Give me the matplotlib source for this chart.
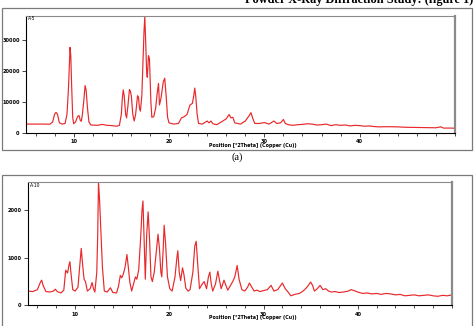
import matplotlib
matplotlib.use("Agg")
import matplotlib.pyplot as plt
from matplotlib.patches import Rectangle
from matplotlib.ticker import MultipleLocator

# ---------------- data ----------------
a_theta = [5.0, 6.0, 7.0, 7.5, 7.8, 8.0, 8.15, 8.3, 8.5, 8.8,
           9.1, 9.3, 9.45, 9.55, 9.62, 9.7, 9.78, 9.9, 10.0, 10.2,
           10.4, 10.55, 10.7, 10.8, 10.9, 11.05, 11.2, 11.3, 11.45, 11.6,
           11.8, 12.5, 13.0, 13.5, 14.0, 14.5, 14.8, 15.0, 15.1, 15.2,
           15.3, 15.45, 15.55, 15.7, 15.85, 15.95, 16.05, 16.2, 16.35, 16.5,
           16.7, 16.8, 16.9, 17.0, 17.15, 17.28, 17.38, 17.46, 17.55, 17.65,
           17.72, 17.85, 17.95, 18.1, 18.2, 18.4, 18.6, 18.75, 18.9, 19.0,
           19.15, 19.4, 19.55, 19.7, 19.85, 20.0, 20.5, 21.0, 21.3, 21.6,
           21.9, 22.2, 22.45, 22.6, 22.7, 22.8, 22.95, 23.1, 23.5, 24.0,
           24.2, 24.4, 24.6, 25.0, 25.5, 26.0, 26.3, 26.5, 26.7, 26.9,
           27.5, 28.0, 28.4, 28.6, 28.8, 29.0, 29.5, 30.0, 30.5, 31.0,
           31.3, 31.7, 32.0, 32.2, 32.5, 33.0, 33.5, 34.0, 34.5, 35.0,
           35.5, 36.0, 36.5, 37.0, 37.5, 38.0, 38.5, 39.0, 39.5, 40.0,
           40.5, 41.0, 41.5, 42.0, 43.0, 44.0, 44.5, 45.0, 46.0, 47.0,
           48.0, 48.5, 48.8, 49.5, 50.0]
a_counts = [2800, 2800, 2800, 2750, 3500, 6000, 6600, 6000, 3200, 2800,
            3000, 6000, 14000, 22000, 27700, 25000, 16000, 5000, 2900, 3500,
            5200, 5600, 4000, 3700, 5500, 10000, 15300, 14000, 8000, 3500,
            2500, 2400, 2700, 2400, 2300, 2100, 2400, 6000, 11000, 13900,
            12000, 6000, 4800, 9000, 14000, 13500, 12000, 6000, 3800, 6000,
            12000, 11500, 8000, 7000, 12000, 24000, 33000, 37700, 30000, 20000,
            18000, 25000, 24000, 10000, 5000, 5200, 8000, 12500, 16000, 9000,
            11000, 16500, 17700, 12000, 5000, 3200, 2800, 3000, 4800, 5200,
            6000, 9000, 9500, 12000, 14500, 12000, 6000, 3000, 2800, 3800,
            3200, 3800, 2900, 2600, 3500, 4500, 5900, 4800, 5000, 3200,
            2800, 3800, 5500, 6500, 4500, 3000, 3000, 3300, 2800, 3800,
            3000, 3200, 4300, 3000, 2600, 2400, 2600, 2700, 2900, 2800,
            2500, 2600, 2800, 2300, 2600, 2400, 2500, 2200, 2400, 2300,
            2100, 2200, 2000, 1900, 1950, 1900, 1800, 1750, 1700, 1650,
            1600, 1900, 1500, 1500, 1450]

b_theta = [5.0, 5.5, 6.0, 6.3, 6.45, 6.6, 6.9, 7.3, 7.7, 7.9,
           8.1, 8.5, 8.8, 9.0, 9.2, 9.35, 9.45, 9.55, 9.75, 10.0,
           10.3, 10.5, 10.65, 10.8, 10.95, 11.1, 11.3, 11.6, 11.8, 11.95,
           12.1, 12.3, 12.4, 12.48, 12.6, 12.75, 12.9, 13.1, 13.4, 13.75,
           14.0, 14.4, 14.6, 14.8, 14.95, 15.1, 15.3, 15.5, 15.65, 15.8,
           16.0, 16.2, 16.4, 16.55, 16.75, 16.95, 17.1, 17.2, 17.35, 17.45,
           17.6, 17.75, 17.9, 18.05, 18.2, 18.4, 18.6, 18.8, 18.95, 19.1,
           19.2, 19.35, 19.45, 19.6, 19.8, 20.05, 20.3, 20.6, 20.8, 20.9,
           21.05, 21.2, 21.4, 21.55, 21.75, 22.0, 22.2, 22.5, 22.7, 22.85,
           23.0, 23.2, 23.5, 23.7, 23.95, 24.15, 24.3, 24.45, 24.6, 24.9,
           25.15, 25.35, 25.5, 25.8, 26.0, 26.2, 26.5, 26.75, 26.95, 27.2,
           27.4, 27.7, 28.0, 28.3, 28.5, 28.7, 29.0, 29.3, 29.6, 30.0,
           30.4, 30.8, 31.1, 31.5, 32.0, 32.3, 32.6, 32.9, 33.3, 33.8,
           34.2, 34.6, 35.0, 35.2, 35.4, 35.7, 36.0, 36.3, 36.6, 36.9,
           37.2, 37.6, 38.0, 38.5, 39.0, 39.3, 39.6, 40.0, 40.5, 41.0,
           41.5, 42.0, 42.5, 43.0, 43.5, 44.0, 44.5, 45.0, 45.5, 46.0,
           46.5, 47.0, 47.5, 48.0, 48.5, 49.0, 49.5, 50.0]
b_counts = [300, 290, 330, 480, 530, 420, 290, 280, 300, 340,
            290, 260, 320, 740, 680, 850, 920, 700, 330, 300,
            380, 850, 1200, 850, 550, 500, 300, 350, 480, 350,
            280, 700, 1500, 2600, 2200, 1500, 800, 300, 280, 370,
            270, 260, 400, 630, 580, 650, 800, 1070, 800, 500,
            300, 450, 600, 550, 750, 1400, 2000, 2200, 1200, 550,
            1500, 1970, 1400, 600, 500, 700, 1100, 1500, 1200, 700,
            600, 1200, 1690, 1300, 600, 350, 300, 600, 1000, 1150,
            700, 520, 790, 650, 360, 300, 330, 700, 1250, 1350,
            900, 350, 450, 500, 350, 600, 700, 450, 300, 450,
            720, 500, 350, 530, 420, 320, 420, 510, 600, 840,
            550, 330, 300, 380, 470, 400, 300, 320, 290, 310,
            330, 420, 300, 330, 470, 350, 280, 200, 230, 250,
            300, 380, 490, 420, 300, 350, 420, 330, 350, 300,
            280, 290, 270, 280, 300, 330, 310, 280, 250, 260,
            240, 250, 230, 250, 240, 220, 230, 200, 210, 220,
            200, 210, 220, 200, 190, 210, 200, 220]

a_yticks = [0, 10000, 20000, 30000]
b_yticks = [0, 1000, 2000]
x_major = [10, 20, 30, 40]
a_corner = "A-5"
b_corner = "A-10"
x_label = "Position [°2Theta] (Copper (Cu))"
header = "Powder X-Ray Diffraction Study: (figure 1)"
caption_a = "(a)"

# ---------------- figure ----------------
W, H = 476, 326
fig = plt.figure(figsize=(W / 100, H / 100), dpi=100)
fig.patch.set_facecolor("white")


def fx(px):
    return px / W


def fy(py):
    return 1 - py / H


# outer frames
fig.patches.append(Rectangle((fx(2), fy(150)), fx(470), (150 - 8) / H, transform=fig.transFigure,
                             fill=False, edgecolor="#7a7a7a", linewidth=0.9))
fig.patches.append(Rectangle((fx(2), fy(328)), fx(470), (328 - 175) / H, transform=fig.transFigure,
                             fill=False, edgecolor="#7a7a7a", linewidth=0.9))

# header text (cut off at the top edge, as in the source page)
fig.text(fx(473), fy(3.5), header, ha="right", va="baseline", fontsize=8.8, fontweight="bold",
         family="Liberation Serif")


def make_panel(rect, theta, counts, ymax, yticks, corner, xlabel_y):
    ax = fig.add_axes(rect)
    ax.plot(theta, counts, color="#e8282a", linewidth=0.85)
    ax.set_xlim(5, 50)
    ax.set_ylim(0, ymax)
    ax.set_xticks(x_major)
    ax.xaxis.set_minor_locator(MultipleLocator(2))
    ax.set_yticks(yticks)
    ax.tick_params(axis="both", which="major", labelsize=3.6, length=3, width=0.5, pad=1.5)
    ax.tick_params(axis="x", which="minor", length=2, width=0.5)
    for s in ("left", "bottom"):
        ax.spines[s].set_color("black")
        ax.spines[s].set_linewidth(0.8)
    ax.spines["top"].set_color("#8a8a8a")
    ax.spines["top"].set_linewidth(0.8)
    ax.spines["right"].set_color("#8a8a8a")
    ax.spines["right"].set_linewidth(1.6)
    for lab in ax.get_xticklabels() + ax.get_yticklabels():
        lab.set_fontweight("bold")
    ax.text(0.005, 0.995, corner, transform=ax.transAxes, ha="left", va="top", fontsize=3.3)
    fig.text(fx(253), fy(xlabel_y), x_label, ha="center", va="center", fontsize=3.4, fontweight="bold")
    return ax


make_panel([fx(26), fy(132.7), (455 - 26) / W, (132.7 - 15.7) / H], a_theta, a_counts, 38000,
           a_yticks, a_corner, 145.5)
make_panel([fx(28), fy(305.3), (452 - 28) / W, (305.3 - 182) / H], b_theta, b_counts, 2600,
           b_yticks, b_corner, 318)

fig.text(fx(237), fy(157), caption_a, ha="center", va="center", fontsize=7.5, family="Liberation Serif")

fig.savefig("out.png", dpi=100)
